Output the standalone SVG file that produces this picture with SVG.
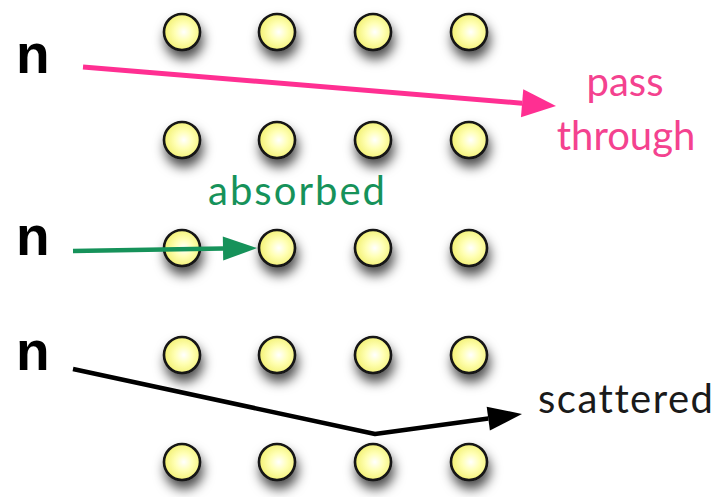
<svg xmlns="http://www.w3.org/2000/svg" width="717" height="497" viewBox="0 0 717 497">
  <defs>
    <radialGradient id="ballFill" cx="0.55" cy="0.5" r="0.55">
      <stop offset="0" stop-color="#ffffff"/>
      <stop offset="0.45" stop-color="#ffffb4"/>
      <stop offset="1" stop-color="#f2f070"/>
    </radialGradient>
    <filter id="ballShadow" x="-80%" y="-80%" width="260%" height="280%">
      <feDropShadow dx="2" dy="8" stdDeviation="6" flood-color="#000" flood-opacity="0.7"/>
    </filter>
    <marker id="headPink" markerUnits="userSpaceOnUse" markerWidth="36" markerHeight="30" refX="0" refY="14" orient="auto" overflow="visible">
      <path d="M0,0 L34,14 L0,28 z" fill="#ff2f92"/>
    </marker>
    <marker id="headGreen" markerUnits="userSpaceOnUse" markerWidth="36" markerHeight="26" refX="0" refY="12" orient="auto" overflow="visible">
      <path d="M0,0 L34,12 L0,24 z" fill="#16925a"/>
    </marker>
    <marker id="headBlack" markerUnits="userSpaceOnUse" markerWidth="36" markerHeight="26" refX="0" refY="12" orient="auto" overflow="visible">
      <path d="M0,0 L34,12 L0,24 z" fill="#000"/>
    </marker>
  </defs>
  <style>
    .ball { fill: url(#ballFill); stroke: #141414; stroke-width: 2.6; filter: url(#ballShadow); }
    .n { font-family: "Liberation Sans", Arial, sans-serif; font-weight: bold; font-size: 55px; fill: #000; }
    .lbl { font-family: Lato, "Open Sans", sans-serif; font-size: 40px; font-variant-ligatures: none; }
    .wire { fill: none; stroke-linecap: butt; stroke-linejoin: round; }
  </style>

  <rect width="717" height="497" fill="#fff"/>

  <!-- lattice of nuclei: 4 columns x 5 rows -->
  <g id="lattice">
    <g id="row1">
      <circle class="ball" cx="182" cy="32" r="18"/>
      <circle class="ball" cx="277" cy="32" r="18"/>
      <circle class="ball" cx="373" cy="32" r="18"/>
      <circle class="ball" cx="469" cy="32" r="18"/>
    </g>
    <g id="row2">
      <circle class="ball" cx="182" cy="140" r="18"/>
      <circle class="ball" cx="277" cy="140" r="18"/>
      <circle class="ball" cx="373" cy="140" r="18"/>
      <circle class="ball" cx="469" cy="140" r="18"/>
    </g>
    <g id="row3">
      <circle class="ball" cx="182" cy="248" r="18"/>
      <circle class="ball" cx="277" cy="248" r="18"/>
      <circle class="ball" cx="373" cy="248" r="18"/>
      <circle class="ball" cx="469" cy="248" r="18"/>
    </g>
    <g id="row4">
      <circle class="ball" cx="182" cy="355" r="18"/>
      <circle class="ball" cx="277" cy="355" r="18"/>
      <circle class="ball" cx="373" cy="355" r="18"/>
      <circle class="ball" cx="469" cy="355" r="18"/>
    </g>
    <g id="row5">
      <circle class="ball" cx="182" cy="462" r="18"/>
      <circle class="ball" cx="277" cy="462" r="18"/>
      <circle class="ball" cx="373" cy="462" r="18"/>
      <circle class="ball" cx="469" cy="462" r="18"/>
    </g>
  </g>

  <!-- incoming neutrons -->
  <g id="neutron1"><text class="n" x="16" y="73">n</text></g>
  <g id="neutron2"><text class="n" x="16" y="255">n</text></g>
  <g id="neutron3"><text class="n" x="16" y="370">n</text></g>

  <!-- neutron paths -->
  <g id="connectors">
    <path class="wire" d="M83,67 L522.1,103.2" stroke="#ff2f92" stroke-width="5" marker-end="url(#headPink)"/>
    <path class="wire" d="M73,251 L223,248.6" stroke="#16925a" stroke-width="4.5" marker-end="url(#headGreen)"/>
    <path class="wire" d="M73,369 L375,434 L488.3,418.6" stroke="#000" stroke-width="4.5" marker-end="url(#headBlack)"/>
  </g>

  <!-- outcome labels -->
  <g id="label-pass">
    <text class="lbl" fill="#f4428f" text-anchor="middle" x="625" y="96">pass</text>
    <text class="lbl" fill="#f4428f" text-anchor="middle" x="626" y="150">through</text>
  </g>
  <g id="label-absorbed">
    <text class="lbl" fill="#16925a" x="208" y="205" textLength="177">absorbed</text>
  </g>
  <g id="label-scattered">
    <text class="lbl" fill="#1a1a1a" x="538" y="413" textLength="175">scattered</text>
  </g>
</svg>
